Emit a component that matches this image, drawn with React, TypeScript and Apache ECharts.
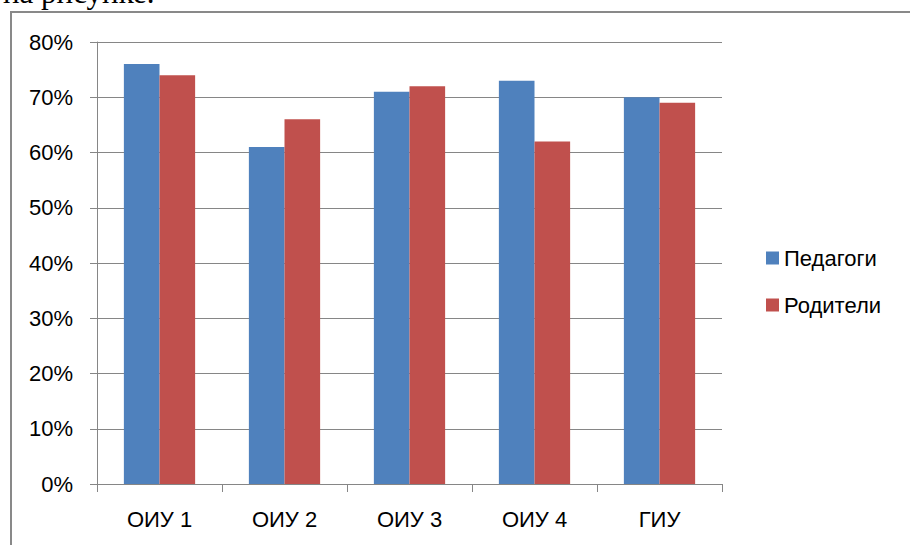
import React, { useEffect, useRef } from "react";
import * as echarts from "echarts";

const categories = ["ОИУ 1", "ОИУ 2", "ОИУ 3", "ОИУ 4", "ГИУ"];
const teachers = [76, 61, 71, 73, 70];
const parents = [74, 66, 72, 62, 69];
const seriesNames = ["Педагоги", "Родители"];

export default function App() {
  const ref = useRef<HTMLDivElement>(null);
  useEffect(() => {
    if (!ref.current) return;
    const chart = echarts.init(ref.current, null, { renderer: "svg" });
    const font = "'Liberation Sans', Arial, sans-serif";
    chart.setOption({
      animation: false,
      backgroundColor: "#fff",
      graphic: [
        {
          type: "rect",
          shape: { x: 11, y: 12, width: 920, height: 560 },
          style: { fill: "none", stroke: "#898989", lineWidth: 2 },
          silent: true,
        },
        {
          type: "text",
          x: 3,
          y: 8,
          style: {
            text: "на рисунке.",
            font: "31px 'Liberation Serif', 'Times New Roman', serif",
            fill: "#000",
            verticalAlign: "bottom",
          },
          silent: true,
        },
      ],
      grid: { left: 97, right: 188, top: 42, bottom: 61, containLabel: false },
      legend: {
        orient: "vertical",
        left: 766,
        top: 247,
        padding: 0,
        itemWidth: 13,
        itemHeight: 13,
        itemGap: 25,
        icon: "rect",
        textStyle: { fontFamily: font, fontSize: 22, color: "#000", lineHeight: 22 },
        data: seriesNames,
      },
      xAxis: {
        type: "category",
        data: categories,
        axisLine: { lineStyle: { color: "#868686", width: 1 } },
        axisTick: { show: true, length: 8, alignWithLabel: false, lineStyle: { color: "#868686" } },
        axisLabel: { fontFamily: font, fontSize: 22, color: "#000", margin: 24 },
      },
      yAxis: {
        type: "value",
        min: 0,
        max: 80,
        interval: 10,
        axisLine: { show: true, lineStyle: { color: "#868686", width: 1 } },
        axisTick: { show: true, length: 7, lineStyle: { color: "#868686" } },
        splitLine: { lineStyle: { color: "#868686", width: 1 } },
        axisLabel: { formatter: "{value}%", fontFamily: font, fontSize: 22, color: "#000", margin: 24 },
      },
      series: [
        {
          name: seriesNames[0],
          type: "bar",
          data: teachers,
          itemStyle: { color: "#4F81BD" },
          barGap: "0%",
          barCategoryGap: "43%",
        },
        {
          name: seriesNames[1],
          type: "bar",
          data: parents,
          itemStyle: { color: "#C0504D" },
          barGap: "0%",
          barCategoryGap: "43%",
        },
      ],
    });
    return () => chart.dispose();
  }, []);
  return (
    <div
      ref={ref}
      style={{ position: "absolute", left: 0, top: 0, width: 910, height: 545 }}
    />
  );
}
